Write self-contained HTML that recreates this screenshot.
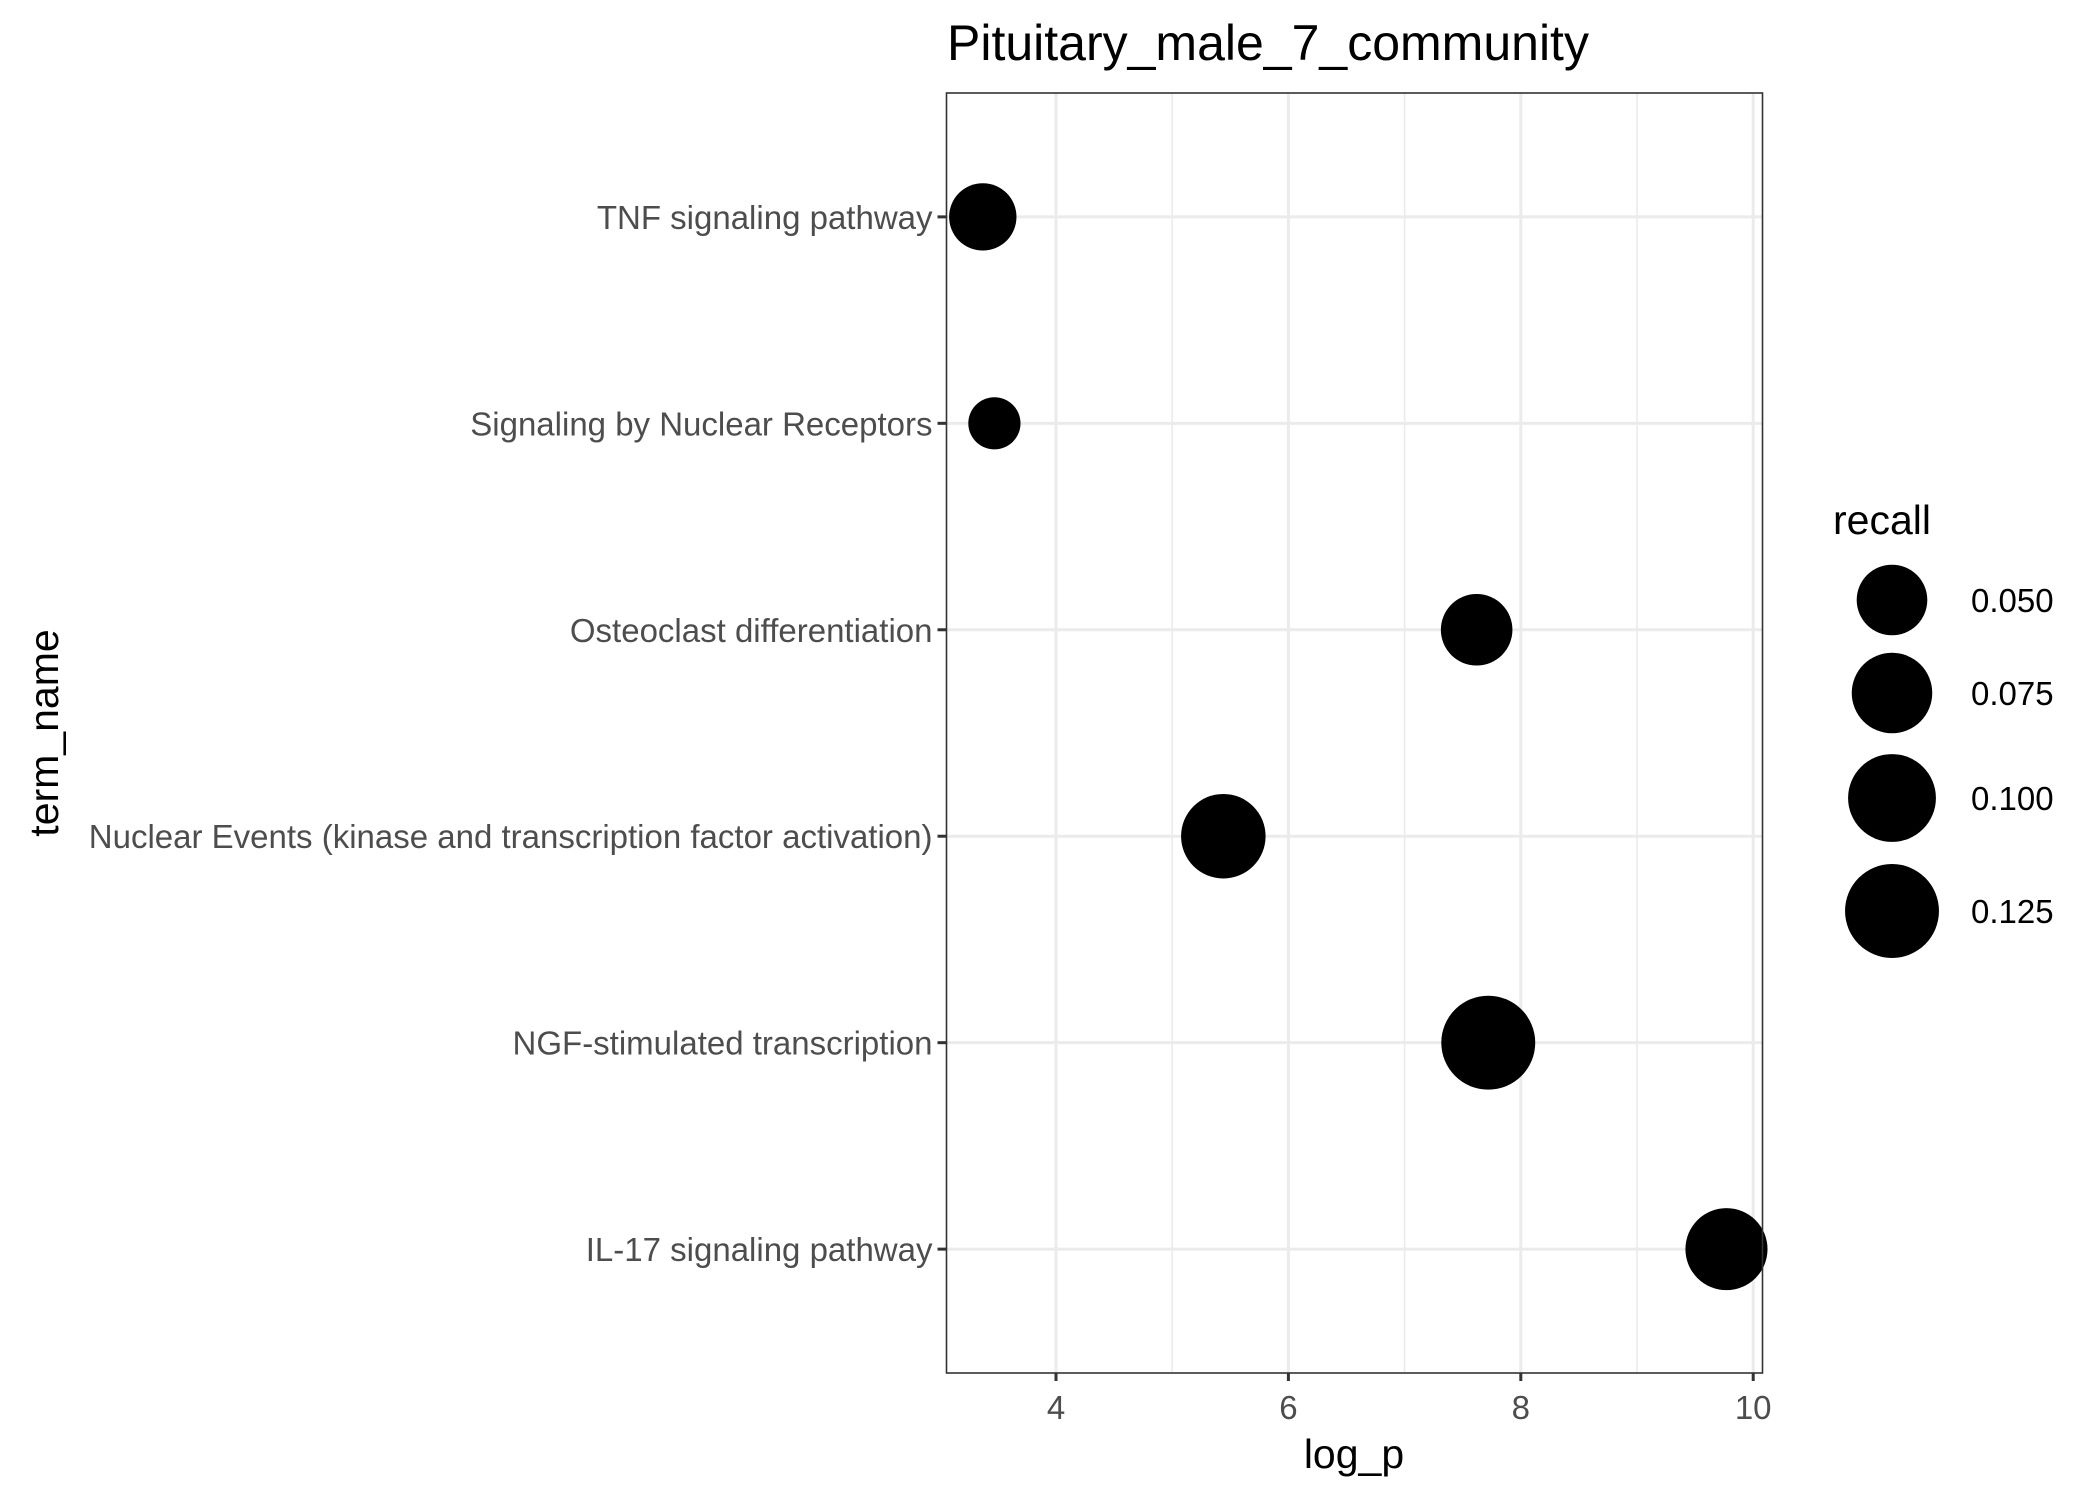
<!DOCTYPE html>
<html><head><meta charset="utf-8"><style>
html,body{margin:0;padding:0;background:#fff}
svg{display:block;font-family:"Liberation Sans",Arial,sans-serif}
</style></head><body>
<svg id="chart" width="2100" height="1499" viewBox="0 0 2100 1499">
<text x="947" y="60" font-size="50" fill="#000">Pituitary_male_7_community</text>
<g id="grid"></g>
<g id="marks"></g>
<rect x="946.5" y="93" width="816" height="1280" fill="none" stroke="#333" stroke-width="1.6"/>
<g id="axes"></g>
<text x="1354" y="1468" font-size="41" text-anchor="middle" fill="#000">log_p</text>
<text x="0" y="0" font-size="41" text-anchor="middle" fill="#000" transform="translate(58,733) rotate(-90)">term_name</text>
<text x="1833" y="534" font-size="41" fill="#000">recall</text>
<g id="legend"></g>
</svg>
<script>
const categories = ["TNF signaling pathway","Signaling by Nuclear Receptors","Osteoclast differentiation","Nuclear Events (kinase and transcription factor activation)","NGF-stimulated transcription","IL-17 signaling pathway"];
const logP = [3.37, 3.47, 7.62, 5.44, 7.72, 9.77];
const recall = [0.044, 0.0301, 0.052, 0.088, 0.125, 0.08];
const xTicks = [4, 6, 8, 10];
const xMinor = [3, 5, 7, 9];
const legendValues = [0.050, 0.075, 0.100, 0.125];
const legendLabels = ["0.050", "0.075", "0.100", "0.125"];

const NS = "http://www.w3.org/2000/svg";
const L = 946.5, R = 1762.5, T = 93, B = 1373;
function xs(v){ return 1056 + (v - 4) * 116.2; }
function ys(i){ return T + (0.6 + i) * ((B - T) / 6.2); }
function rs(v){ return 25.4 + 70 * Math.sqrt(Math.max(0, v - 0.03)); }
function mk(tag, attrs, parent){ const e = document.createElementNS(NS, tag); for (const k in attrs) e.setAttribute(k, attrs[k]); parent.appendChild(e); return e; }

const grid = document.getElementById('grid');
const marks = document.getElementById('marks');
const axes = document.getElementById('axes');
const legend = document.getElementById('legend');

xMinor.forEach(v => {
  const x = xs(v); if (x < L || x > R) return;
  const l = mk('line', {x1:x, x2:x, y1:T, y2:B, stroke:'#ebebeb', 'stroke-width':1.6}, grid);
  
  
});
xTicks.forEach(v => {
  const x = xs(v);
  const l = mk('line', {x1:x, x2:x, y1:T, y2:B, stroke:'#ebebeb', 'stroke-width':3}, grid);
  
  
  const t = mk('line', {x1:x, x2:x, y1:B, y2:B+8, stroke:'#333', 'stroke-width':3}, axes);
  
  
  const tx = mk('text', {x:x, y:1419, 'font-size':33, fill:'#4d4d4d', 'text-anchor':'middle'}, axes);
  tx.textContent = String(v);
  
  
});
categories.forEach((c, i) => {
  const y = ys(i);
  const l = mk('line', {x1:L, x2:R, y1:y, y2:y, stroke:'#ebebeb', 'stroke-width':3}, grid);
  
  
  const t = mk('line', {x1:L-9, x2:L, y1:y, y2:y, stroke:'#333', 'stroke-width':3}, axes);
  
  
  const tx = mk('text', {x:L-14, y:y+12, 'font-size':33, fill:'#4d4d4d', 'text-anchor':'end'}, axes);
  tx.textContent = c;
  
  
  const p = mk('circle', {cx:xs(logP[i]), cy:y, r:rs(recall[i]), fill:'#000'}, marks);
  
  
});
const legY = [600, 693, 798, 911];
legendValues.forEach((v, i) => {
  const c = mk('circle', {cx:1892, cy:legY[i], r:rs(v), fill:'#000'}, legend);
  
  
  const t = mk('text', {x:1971, y:legY[i]+12, 'font-size':33, fill:'#000'}, legend);
  t.textContent = legendLabels[i];
  
  
});
</script>
</body></html>
